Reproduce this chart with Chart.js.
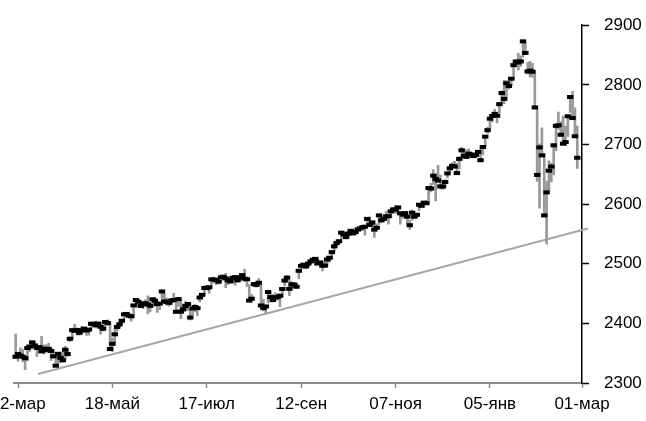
<!DOCTYPE html>
<html>
<head>
<meta charset="utf-8">
<script src="https://cdn.jsdelivr.net/npm/chart.js@4.4.1/dist/chart.umd.min.js"></script>
<style>
  html, body { margin: 0; padding: 0; background: #fff; }
</style>
</head>
<body>
<canvas id="chart" width="646" height="421"></canvas>
<script>
// trading days, one row per month (21-mar-2017 .. 01-mar-2018)
const tradeDates = [
  '17-03-21','17-03-22','17-03-23','17-03-24','17-03-27','17-03-28','17-03-29','17-03-30','17-03-31',
  '17-04-03','17-04-04','17-04-05','17-04-06','17-04-07','17-04-10','17-04-11','17-04-12','17-04-13','17-04-17','17-04-18','17-04-19','17-04-20','17-04-21','17-04-24','17-04-25','17-04-26','17-04-27','17-04-28',
  '17-05-01','17-05-02','17-05-03','17-05-04','17-05-05','17-05-08','17-05-09','17-05-10','17-05-11','17-05-12','17-05-15','17-05-16','17-05-17','17-05-18','17-05-19','17-05-22','17-05-23','17-05-24','17-05-25','17-05-26','17-05-30','17-05-31',
  '17-06-01','17-06-02','17-06-05','17-06-06','17-06-07','17-06-08','17-06-09','17-06-12','17-06-13','17-06-14','17-06-15','17-06-16','17-06-19','17-06-20','17-06-21','17-06-22','17-06-23','17-06-26','17-06-27','17-06-28','17-06-29','17-06-30',
  '17-07-03','17-07-05','17-07-06','17-07-07','17-07-10','17-07-11','17-07-12','17-07-13','17-07-14','17-07-17','17-07-18','17-07-19','17-07-20','17-07-21','17-07-24','17-07-25','17-07-26','17-07-27','17-07-28','17-07-31',
  '17-08-01','17-08-02','17-08-03','17-08-04','17-08-07','17-08-08','17-08-09','17-08-10','17-08-11','17-08-14','17-08-15','17-08-16','17-08-17','17-08-18','17-08-21','17-08-22','17-08-23','17-08-24','17-08-25','17-08-28','17-08-29','17-08-30','17-08-31',
  '17-09-01','17-09-05','17-09-06','17-09-07','17-09-08','17-09-11','17-09-12','17-09-13','17-09-14','17-09-15','17-09-18','17-09-19','17-09-20','17-09-21','17-09-22','17-09-25','17-09-26','17-09-27','17-09-28','17-09-29',
  '17-10-02','17-10-03','17-10-04','17-10-05','17-10-06','17-10-09','17-10-10','17-10-11','17-10-12','17-10-13','17-10-16','17-10-17','17-10-18','17-10-19','17-10-20','17-10-23','17-10-24','17-10-25','17-10-26','17-10-27','17-10-30','17-10-31',
  '17-11-01','17-11-02','17-11-03','17-11-06','17-11-07','17-11-08','17-11-09','17-11-10','17-11-13','17-11-14','17-11-15','17-11-16','17-11-17','17-11-20','17-11-21','17-11-22','17-11-24','17-11-27','17-11-28','17-11-29','17-11-30',
  '17-12-01','17-12-04','17-12-05','17-12-06','17-12-07','17-12-08','17-12-11','17-12-12','17-12-13','17-12-14','17-12-15','17-12-18','17-12-19','17-12-20','17-12-21','17-12-22','17-12-26','17-12-27','17-12-28','17-12-29',
  '18-01-02','18-01-03','18-01-04','18-01-05','18-01-08','18-01-09','18-01-10','18-01-11','18-01-12','18-01-16','18-01-17','18-01-18','18-01-19','18-01-22','18-01-23','18-01-24','18-01-25','18-01-26','18-01-29','18-01-30','18-01-31',
  '18-02-01','18-02-02','18-02-05','18-02-06','18-02-07','18-02-08','18-02-09','18-02-12','18-02-13','18-02-14','18-02-15','18-02-16','18-02-20','18-02-21','18-02-22','18-02-23','18-02-26','18-02-27','18-02-28',
  '18-03-01'
];

const highs = [
  2381.9,2351.8,2358.9,2356.2,2344.9,2363.8,2363.8,2370.4,2370.4,
  2365.9,2360.5,2378.4,2364.2,2363.8,2366.4,2355.2,2352.7,2348.3,2349.1,2348.4,2352.6,2361.4,2356.2,2377.0,2392.1,2398.2,2392.4,2391.4,
  2394.5,2392.9,2389.8,2391.4,2399.3,2401.4,2403.9,2399.7,2395.7,2392.4,2404.1,2405.8,2400.4,2375.7,2390.0,2395.5,2400.9,2405.6,2418.7,2416.7,2415.3,2415.3,
  2430.1,2440.2,2439.0,2436.1,2435.3,2439.5,2446.2,2432.0,2441.5,2443.8,2434.0,2433.2,2453.8,2450.4,2442.6,2440.3,2441.6,2450.4,2441.5,2442.6,2438.7,2432.7,
  2436.5,2434.8,2424.3,2426.9,2432.0,2429.3,2445.0,2449.3,2463.5,2462.8,2460.9,2474.9,2477.6,2472.5,2473.1,2481.2,2481.7,2484.0,2473.5,2478.0,
  2478.5,2479.0,2476.8,2480.4,2480.9,2490.9,2474.4,2465.0,2448.1,2468.2,2468.6,2474.9,2465.0,2440.3,2430.6,2454.8,2448.9,2448.9,2451.4,2449.1,2449.2,2460.1,2475.0,
  2480.4,2472.0,2469.6,2468.6,2467.1,2489.0,2496.8,2498.4,2498.4,2500.2,2507.0,2507.8,2508.9,2507.2,2503.5,2502.5,2503.1,2511.8,2510.8,2519.4,
  2529.2,2535.1,2540.5,2552.5,2549.4,2551.8,2555.2,2555.2,2555.3,2557.7,2559.7,2559.7,2563.0,2562.4,2575.4,2578.3,2572.2,2572.2,2567.1,2583.0,2580.0,2578.3,
  2588.4,2581.1,2588.4,2593.4,2597.1,2594.4,2586.5,2584.0,2587.7,2579.7,2572.8,2590.1,2583.0,2584.6,2601.2,2600.9,2604.2,2606.0,2627.7,2634.9,2657.7,
  2650.6,2665.2,2648.7,2634.4,2641.0,2651.7,2660.3,2669.7,2671.9,2668.1,2679.6,2695.0,2691.0,2691.0,2692.6,2685.4,2682.7,2685.6,2687.7,2692.1,
  2695.9,2714.4,2729.3,2743.5,2748.5,2759.1,2750.8,2767.6,2789.8,2807.5,2807.0,2805.8,2810.3,2833.0,2842.2,2853.0,2848.6,2872.9,2870.6,2837.8,2839.3,
  2836.0,2819.0,2763.4,2701.0,2727.7,2685.3,2638.7,2672.6,2668.6,2702.1,2731.5,2754.4,2738.3,2747.8,2731.3,2747.3,2780.0,2789.2,2761.5,
  2730.9
];

const lows = [
  2341.9,2336.5,2342.1,2335.7,2322.3,2337.6,2352.9,2358.6,2362.6,
  2344.7,2350.7,2350.5,2348.9,2350.7,2351.5,2337.3,2341.2,2328.9,2332.5,2334.5,2335.0,2340.9,2344.5,2369.2,2374.4,2386.8,2380.2,2380.4,
  2382.4,2385.8,2379.8,2380.4,2389.4,2393.6,2392.4,2392.8,2381.7,2387.2,2393.9,2396.1,2356.2,2352.7,2367.1,2386.9,2393.2,2398.0,2408.0,2412.2,2409.4,2403.6,
  2413.5,2427.7,2434.2,2429.0,2424.8,2427.9,2415.7,2419.4,2431.3,2428.3,2418.5,2422.9,2441.8,2436.9,2430.7,2428.7,2431.5,2437.6,2419.4,2428.4,2407.7,2421.6,
  2425.4,2421.1,2405.6,2413.7,2419.2,2412.8,2436.0,2441.7,2446.7,2457.2,2450.3,2463.9,2468.4,2465.1,2466.3,2474.0,2474.9,2459.9,2464.7,2468.5,
  2471.1,2464.2,2468.9,2470.0,2475.3,2470.3,2462.1,2437.8,2437.9,2461.6,2460.8,2463.3,2430.0,2420.7,2417.4,2433.7,2441.4,2436.0,2441.9,2439.0,2428.2,2443.8,2462.7,
  2473.9,2446.6,2459.2,2460.3,2459.4,2474.9,2490.4,2492.1,2491.4,2493.2,2499.9,2503.2,2496.7,2499.0,2496.5,2488.0,2495.7,2495.9,2502.9,2508.0,
  2520.4,2528.9,2533.7,2540.0,2543.8,2541.6,2544.9,2548.0,2548.3,2552.1,2554.2,2554.7,2556.9,2547.9,2565.1,2564.3,2565.1,2544.3,2559.5,2565.9,2568.7,2572.2,
  2574.9,2566.2,2576.8,2585.7,2584.1,2585.7,2566.3,2576.2,2576.5,2566.6,2557.4,2573.0,2577.5,2578.2,2589.0,2596.2,2600.5,2598.9,2600.6,2620.3,2633.1,
  2605.5,2639.0,2627.7,2624.8,2628.6,2644.1,2653.6,2659.8,2662.9,2652.0,2659.1,2685.9,2676.1,2676.1,2682.4,2678.1,2678.0,2678.9,2681.8,2673.6,
  2682.4,2697.8,2719.1,2727.9,2737.6,2747.9,2736.1,2752.8,2769.6,2768.6,2778.4,2792.6,2798.1,2808.1,2830.6,2824.8,2830.9,2846.2,2851.5,2818.3,2813.0,
  2812.7,2759.1,2638.2,2593.1,2681.3,2580.6,2532.7,2622.5,2637.1,2648.9,2689.8,2725.1,2713.7,2701.3,2697.8,2713.7,2753.8,2744.2,2713.5,
  2659.7
];

const closes = [
  2344.0,2348.5,2346.0,2344.0,2341.6,2358.6,2361.1,2368.1,2362.7,
  2358.8,2360.2,2353.0,2357.5,2355.5,2357.2,2353.8,2344.9,2329.0,2349.0,2342.2,2338.2,2355.8,2348.7,2374.2,2388.6,2387.5,2388.8,2384.2,
  2388.3,2391.2,2388.1,2389.5,2399.3,2399.4,2396.9,2399.6,2394.4,2390.9,2402.3,2400.7,2357.0,2365.7,2381.7,2394.0,2398.4,2404.4,2415.1,2415.8,2412.9,2411.8,
  2430.1,2439.1,2436.1,2429.3,2433.1,2433.8,2431.8,2429.4,2440.4,2437.9,2432.5,2433.2,2453.5,2437.0,2435.6,2434.5,2438.3,2439.1,2419.4,2440.7,2419.7,2423.4,
  2429.0,2432.5,2409.8,2425.2,2427.4,2425.5,2443.3,2447.8,2459.3,2459.1,2460.6,2473.8,2473.5,2472.5,2469.9,2477.1,2477.8,2475.4,2472.1,2470.3,
  2476.4,2477.6,2472.2,2476.8,2480.9,2474.9,2474.0,2438.2,2441.3,2465.8,2464.6,2468.1,2430.0,2425.6,2428.4,2452.5,2444.0,2439.0,2443.1,2444.2,2446.3,2457.6,2471.7,
  2476.6,2457.9,2465.5,2465.1,2461.4,2488.1,2496.5,2498.4,2495.6,2500.2,2503.9,2506.7,2508.2,2500.6,2502.2,2496.7,2496.8,2507.0,2510.1,2519.4,
  2529.1,2534.6,2537.7,2552.1,2549.3,2544.7,2550.6,2555.2,2550.9,2553.2,2557.6,2559.4,2561.3,2562.1,2575.2,2565.0,2569.1,2557.2,2560.4,2581.1,2572.8,2575.3,
  2579.4,2579.9,2587.8,2591.1,2590.6,2594.4,2584.6,2582.3,2584.8,2578.9,2564.6,2585.6,2578.9,2582.1,2599.0,2597.1,2602.4,2601.4,2627.0,2626.1,2647.6,
  2642.2,2639.4,2629.6,2629.3,2637.0,2651.5,2660.0,2664.1,2662.9,2652.0,2675.8,2690.2,2681.5,2679.3,2684.6,2683.3,2680.5,2682.6,2687.5,2673.6,
  2695.8,2713.1,2724.0,2743.2,2747.7,2751.3,2748.2,2767.6,2786.2,2776.4,2802.6,2798.0,2810.3,2833.0,2839.1,2837.5,2839.3,2872.9,2853.5,2822.4,2823.8,
  2822.0,2762.1,2648.9,2695.1,2681.7,2581.0,2619.6,2656.0,2662.9,2698.6,2731.2,2732.2,2716.3,2701.3,2704.0,2747.3,2779.6,2744.3,2713.8,
  2677.7
];

// x axis: position of the day in the row; 22-mar is step 0
const firstStep = -1;
const tickSteps = [0, 40, 80, 120, 160, 200, 239];
const tickLabels = ['22-мар', '18-май', '17-июл', '12-сен', '07-ноя', '05-янв', '01-мар'];

// support line drawn under the lows
const trendSteps = [8.5, 241.5];
const trendValues = [2315, 2559];

const fontFamily = "'Liberation Sans', Arial, sans-serif";

const closePoints = closes.map((c, i) => ({ x: i + firstStep, y: c }));
const rangeBars = highs.map((h, i) => ({ x: i + firstStep, y: [lows[i], h] }));
const trendPoints = trendSteps.map((s, i) => ({ x: s, y: trendValues[i] }));

new Chart('chart', {
    type: 'bar',
    data: {
        datasets: [
            { type: 'line', data: closePoints, showLine: false, pointStyle: 'line',
              pointRadius: 3.2, pointHoverRadius: 3.2, pointBorderWidth: 4,
              borderColor: '#000', backgroundColor: '#000', clip: false, order: 0 },
            { type: 'bar', data: rangeBars, backgroundColor: '#999999', borderWidth: 0,
              barThickness: 2, order: 1 },
            { type: 'line', data: trendPoints, borderColor: '#a6a6a6', borderWidth: 2,
              pointRadius: 0, clip: 8, order: 2 }
        ]
    },
    options: {
        responsive: false,
        animation: false,
        events: [],
        layout: { padding: { top: 24, left: 14, right: 0, bottom: 0 } },
        plugins: { legend: { display: false }, tooltip: { enabled: false } },
        scales: {
            x: {
                type: 'linear', min: -1.7, max: 239, offset: false,
                afterBuildTicks: (s) => { s.ticks = tickSteps.map((v) => ({ value: v })); },
                afterFit: (s) => { s.paddingLeft = 0; s.paddingRight = 0; s.height = 38; },
                grid: { drawOnChartArea: false, offset: false, tickLength: 5, tickColor: '#8c8c8c', tickWidth: 1.5 },
                border: { color: '#8c8c8c', width: 2 },
                ticks: { autoSkip: false, maxRotation: 0, padding: 6, color: '#000',
                         font: { family: fontFamily, size: 17 },
                         callback: (v, i) => tickLabels[i] }
            },
            y: {
                position: 'right', min: 2300, max: 2900,
                afterFit: (s) => { s.width = 64; },
                grid: { drawOnChartArea: false, tickLength: 7, tickColor: '#000', tickWidth: 1.5 },
                border: { color: '#000', width: 1.5 },
                ticks: { stepSize: 100, padding: 15, color: '#000',
                         font: { family: fontFamily, size: 17 },
                         callback: (v) => String(v) }
            }
        }
    }
});
</script>
</body>
</html>
